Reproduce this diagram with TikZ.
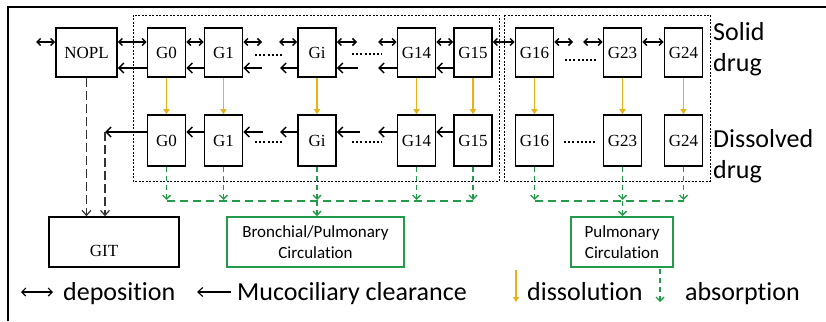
\documentclass[tikz,border=0pt]{standalone}
\usepackage{fontspec}
\usetikzlibrary{arrows.meta}
\newfontfamily\gserif{Liberation Serif}
\newfontfamily\carl[Ligatures=NoCommon]{Carlito}
\definecolor{ylw}{RGB}{232,178,20}
\definecolor{grn}{RGB}{35,155,75}
\begin{document}
\begin{tikzpicture}[x=1pt,y=-1pt,
  gbox/.style={draw, line width=1.6pt, minimum width=38pt, minimum height=49pt, inner sep=0pt, font=\gserif\fontsize{17}{20}\selectfont},
  cbox/.style={draw=grn, line width=1.8pt, inner sep=0pt, align=center, font=\carl\fontsize{17}{21}\selectfont},
  zone/.style={line width=0.9pt, dash pattern=on 2pt off 1.5pt},
  dep/.style={line width=1.5pt, {Straight Barb[length=3.5pt,width=7pt]}-{Straight Barb[length=3.5pt,width=7pt]}},
  muc/.style={line width=1.5pt, -{Straight Barb[length=5pt,width=10pt]}},
  dis/.style={draw=ylw, line width=1.5pt, -{Triangle[length=5pt,width=6pt]}},
  abs/.style={draw=grn, line width=1.4pt, dash pattern=on 5pt off 4pt, -{Straight Barb[length=4pt,width=8pt]}},
  absl/.style={draw=grn, line width=1.4pt, dash pattern=on 8pt off 5pt},
  dots/.style={line width=2.2pt, dash pattern=on 2pt off 2.2pt},
  git/.style={draw=black!80, line width=1.2pt, dash pattern=on 9pt off 4pt, -{Straight Barb[length=5pt,width=9pt]}},
  lbl/.style={font=\carl\fontsize{26}{31}\selectfont, inner sep=0pt},
]
\useasboundingbox (0,0) rectangle (826,321);
% outer frame
\draw[line width=1.6pt] (8,321) -- (8,7) -- (826,7);
% zones
\draw[zone] (133,15) rectangle (499,181);
\draw[zone] (504,15) rectangle (710,181);

% boxes
\node[gbox, minimum width=61pt] (NOPL) at (86.5,52.5) {NOPL};
\foreach \n/\x in {0/166.5,1/223.5,i/317,14/416.5,15/473,16/534.5,23/622.5,24/683.5}{
  \node[gbox] (G\n s) at (\x,52.5) {G\n};
  \node[gbox, minimum height=51pt] (G\n d) at (\x,140.5) {G\n};
  \draw[dis] (G\n s.south) -- (G\n d.north);
  \coordinate (A\n) at (\x,200);
  \draw[abs] (G\n d.south) -- (A\n);
}
\node[gbox, minimum width=130pt, minimum height=50pt, text depth=0pt, inner sep=0pt] (GIT) at (114,242) {};
\node[font=\gserif\fontsize{17}{20}\selectfont, inner sep=0pt] (GITt) at (104,251) {GIT};

\node[cbox, minimum width=177pt, minimum height=50pt] (BPC) at (315.5,242) {Bronchial/Pulmonary\\Circulation};
\node[cbox, minimum width=102pt, minimum height=50pt] (PC) at (622,242) {Pulmonary\\Circulation};

% y-levels
\coordinate (yd) at (0,42);
\coordinate (ym) at (0,68);
\coordinate (yk) at (0,132);

% deposition arrows
\coordinate (d0) at (36,42);
\coordinate (d1) at (262,42);
\coordinate (d2) at (279,42);
\coordinate (d3) at (357,42);
\coordinate (d4) at (378,42);
\coordinate (d5) at (573,42);
\coordinate (d6) at (583,42);
\draw[dep] (d0) -- (NOPL.west |- yd);
\draw[dep] (NOPL.east |- yd) -- (G0s.west |- yd);
\draw[dep] (G0s.east |- yd) -- (G1s.west |- yd);
\draw[dep] (G1s.east |- yd) -- (d1);
\draw[dep] (d2) -- (Gis.west |- yd);
\draw[dep] (Gis.east |- yd) -- (d3);
\draw[dep] (d4) -- (G14s.west |- yd);
\draw[dep] (G14s.east |- yd) -- (G15s.west |- yd);
\draw[dep] (G15s.east |- yd) -- (G16s.west |- yd);
\draw[dep] (G16s.east |- yd) -- (d5);
\draw[dep] (d6) -- (G23s.west |- yd);
\draw[dep] (G23s.east |- yd) -- (G24s.west |- yd);

% mucociliary, solid row
\coordinate (m1) at (262,68);
\coordinate (m2) at (280,68);
\coordinate (m3) at (358,68);
\coordinate (m4) at (378,68);
\draw[muc] (G0s.west |- ym) -- (NOPL.east |- ym);
\draw[muc] (G1s.west |- ym) -- (G0s.east |- ym);
\draw[muc] (m1) -- (G1s.east |- ym);
\draw[muc] (Gis.west |- ym) -- (m2);
\draw[muc] (m3) -- (Gis.east |- ym);
\draw[muc] (G14s.west |- ym) -- (m4);
\draw[muc] (G15s.west |- ym) -- (G14s.east |- ym);

% mucociliary, dissolved row
\coordinate (k0) at (105,132);
\coordinate (k1) at (263,132);
\coordinate (k2) at (280,132);
\coordinate (k3) at (360,132);
\coordinate (k4) at (378,132);
\draw[muc] (G0d.west |- yk) -- (k0);
\draw[muc] (G1d.west |- yk) -- (G0d.east |- yk);
\draw[muc] (k1) -- (G1d.east |- yk);
\draw[muc] (Gid.west |- yk) -- (k2);
\draw[muc] (k3) -- (Gid.east |- yk);
\draw[muc] (G14d.west |- yk) -- (k4);
\draw[muc] (G15d.west |- yk) -- (G14d.east |- yk);

% dots
\coordinate (s1a) at (255,55); \coordinate (s1b) at (283,55);
\coordinate (s2a) at (352,54); \coordinate (s2b) at (382,54);
\coordinate (s3a) at (565,60); \coordinate (s3b) at (596,60);
\coordinate (t1a) at (255,142); \coordinate (t1b) at (283,142);
\coordinate (t2a) at (352,142); \coordinate (t2b) at (382,142);
\coordinate (t3a) at (564,142); \coordinate (t3b) at (596,142);
\draw[dots] (s1a) -- (s1b);
\draw[dots] (s2a) -- (s2b);
\draw[dots] (s3a) -- (s3b);
\draw[dots] (t1a) -- (t1b);
\draw[dots] (t2a) -- (t2b);
\draw[dots] (t3a) -- (t3b);

% to GIT
\draw[git] (NOPL.south) -- (NOPL.south |- GIT.north);
\draw[git] (k0) -- (k0 |- GIT.north);

% absorption collectors
\coordinate (h0) at (166.5,201);
\coordinate (h1) at (473,201);
\coordinate (h2) at (534.5,201);
\coordinate (h3) at (683.5,201);
\draw[absl] (h0) -- (h1);
\draw[absl] (h2) -- (h3);
\draw[abs] (Ai |- h0) -- (Ai |- BPC.north);
\draw[abs] (A23 |- h2) -- (A23 |- PC.north);

% side labels
\node[lbl, anchor=north west, align=left] (solid) at (713,22) {Solid\\drug};
\node[lbl, anchor=north west, align=left] (diss) at (713,129) {Dissolved\\drug};

% legend
\coordinate (L1a) at (21,292); \coordinate (L1b) at (53,292);
\draw[line width=1.1pt, {Straight Barb[length=4pt,width=8pt]}-{Straight Barb[length=4pt,width=8pt]}] (L1a) -- (L1b);
\node[lbl, anchor=base west] (ldep) at (63,300) {deposition};
\coordinate (L2a) at (231,292); \coordinate (L2b) at (197,292);
\draw[line width=1.1pt, -{Straight Barb[length=5pt,width=9pt]}] (L2a) -- (L2b);
\node[lbl, anchor=base west] (lmuc) at (237,300) {Mucociliary clearance};
\coordinate (L3a) at (516,270); \coordinate (L3b) at (516,302);
\draw[dis] (L3a) -- (L3b);
\node[lbl, anchor=base west] (ldis) at (527,300) {dissolution};
\coordinate (L4a) at (660,269); \coordinate (L4b) at (660,302);
\draw[abs] (L4a) -- (L4b);
\node[lbl, anchor=base west] (labs) at (685,300) {absorption};
\end{tikzpicture}
\end{document}
